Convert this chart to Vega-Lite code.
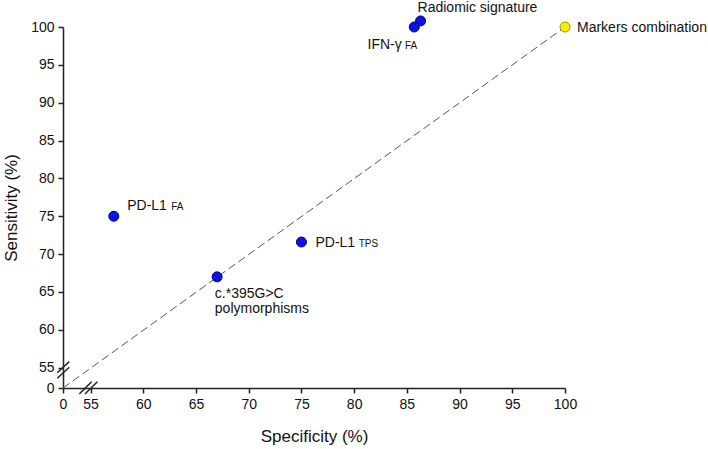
{
  "$schema": "https://vega.github.io/schema/vega-lite/v6.json",
  "width": 502,
  "height": 361,
  "autosize": {"type": "none"},
  "padding": {"left": 63, "top": 27, "right": 143, "bottom": 61},
  "background": "white",
  "config": {
    "view": {"stroke": null},
    "font": "Liberation Sans",
    "axis": {
      "grid": false,
      "domainColor": "#222",
      "domainWidth": 1.5,
      "tickColor": "#222",
      "tickWidth": 1.5,
      "tickSize": 5,
      "labelFont": "Liberation Sans",
      "labelFontSize": 14,
      "labelColor": "#111",
      "labelPadding": 4,
      "labelOverlap": false,
      "labelFlush": false,
      "titleFont": "Liberation Sans",
      "titleFontSize": 17,
      "titleFontWeight": "normal",
      "titleColor": "#111"
    }
  },
  "datasets": {
    "pts": [
      {"name": "Radiomic signature", "spec": 86.3, "sens": 100.8, "kind": "single"},
      {"name": "IFN-γ FA", "spec": 85.7, "sens": 100, "kind": "single"},
      {"name": "PD-L1 FA", "spec": 57.2, "sens": 75, "kind": "single"},
      {"name": "PD-L1 TPS", "spec": 75, "sens": 71.6, "kind": "single"},
      {"name": "c.*395G>C polymorphisms", "spec": 67, "sens": 67, "kind": "single"},
      {"name": "Markers combination", "spec": 100, "sens": 100, "kind": "combination"}
    ],
    "labels": [
      {"id": "rad", "main": "Radiomic signature", "sub": "", "spec": 86.3, "sens": 100.8},
      {"id": "ifn", "main": "IFN-γ", "sub": "FA", "spec": 85.7, "sens": 100},
      {"id": "pdfa", "main": "PD-L1", "sub": "FA", "spec": 57.2, "sens": 75},
      {"id": "pdtps", "main": "PD-L1", "sub": "TPS", "spec": 75, "sens": 71.6},
      {"id": "poly", "main": "c.*395G>C\npolymorphisms", "sub": "", "spec": 67, "sens": 67},
      {"id": "comb", "main": "Markers combination", "sub": "", "spec": 100, "sens": 100}
    ],
    "diag": [
      {"spec": 0, "sens": 0},
      {"spec": 100, "sens": 100}
    ],
    "breaks": [
      {"x": -11.4, "y": 41.5, "x2": 12.5, "y2": 55.8},
      {"x": -11.4, "y": 26.3, "x2": 12.5, "y2": 55.05},
      {"x": 32.5, "y": -16.3, "x2": 55.1, "y2": 17.1},
      {"x": 43.8, "y": -16.3, "x2": 55.64, "y2": 17.1}
    ]
  },
  "layer": [
    {
      "data": {"name": "diag"},
      "mark": {"type": "line", "color": "#555", "strokeWidth": 1, "strokeDash": [8, 4]},
      "encoding": {
        "x": {
          "field": "spec", "type": "quantitative",
          "scale": {"domain": [0, 55, 100], "range": [0, 27.6, 502], "nice": false, "zero": false},
          "axis": {"values": [0, 55, 60, 65, 70, 75, 80, 85, 90, 95, 100], "tickCount": 20, "title": "Specificity (%)", "titlePadding": 17}
        },
        "y": {
          "field": "sens", "type": "quantitative",
          "scale": {"domain": [0, 55, 100], "range": [361, 340.7, 0], "nice": false, "zero": false},
          "axis": {"values": [0, 55, 60, 65, 70, 75, 80, 85, 90, 95, 100], "tickCount": 20, "title": "Sensitivity (%)", "titlePadding": 10}
        }
      }
    },
    {
      "data": {"name": "breaks"},
      "mark": {"type": "rule", "color": "#222", "strokeWidth": 1.5},
      "encoding": {
        "x": {"field": "x", "type": "quantitative"},
        "y": {"field": "y", "type": "quantitative"},
        "x2": {"field": "x2"},
        "y2": {"field": "y2"}
      }
    },
    {
      "data": {"name": "pts"},
      "mark": {"type": "point", "filled": true, "size": 100, "strokeWidth": 1, "opacity": 1},
      "encoding": {
        "x": {"field": "spec", "type": "quantitative"},
        "y": {"field": "sens", "type": "quantitative"},
        "fill": {"field": "kind", "type": "nominal", "scale": {"domain": ["single", "combination"], "range": ["#0a14e6", "#f2f200"]}, "legend": null},
        "stroke": {"field": "kind", "type": "nominal", "scale": {"domain": ["single", "combination"], "range": ["#00007a", "#9a9a00"]}, "legend": null}
      }
    },
    {
      "data": {"name": "labels"},
      "transform": [{"filter": "datum.id === 'rad'"}],
      "mark": {"type": "text", "align": "left", "baseline": "alphabetic", "fontSize": 14, "color": "#111", "dx": -3, "dy": -8.5},
      "encoding": {"x": {"field": "spec", "type": "quantitative"}, "y": {"field": "sens", "type": "quantitative"}, "text": {"field": "main"}}
    },
    {
      "data": {"name": "labels"},
      "transform": [{"filter": "datum.id === 'ifn'"}],
      "mark": {"type": "text", "align": "right", "baseline": "alphabetic", "fontSize": 14, "color": "#111", "dx": -12.5, "dy": 22},
      "encoding": {"x": {"field": "spec", "type": "quantitative"}, "y": {"field": "sens", "type": "quantitative"}, "text": {"field": "main"}}
    },
    {
      "data": {"name": "labels"},
      "transform": [{"filter": "datum.id === 'ifn'"}],
      "mark": {"type": "text", "align": "right", "baseline": "alphabetic", "fontSize": 10, "color": "#111", "dx": 3, "dy": 22},
      "encoding": {"x": {"field": "spec", "type": "quantitative"}, "y": {"field": "sens", "type": "quantitative"}, "text": {"field": "sub"}}
    },
    {
      "data": {"name": "labels"},
      "transform": [{"filter": "datum.id === 'comb'"}],
      "mark": {"type": "text", "align": "left", "baseline": "alphabetic", "fontSize": 14, "color": "#111", "dx": 12, "dy": 5},
      "encoding": {"x": {"field": "spec", "type": "quantitative"}, "y": {"field": "sens", "type": "quantitative"}, "text": {"field": "main"}}
    },
    {
      "data": {"name": "labels"},
      "transform": [{"filter": "datum.id === 'pdfa'"}],
      "mark": {"type": "text", "align": "left", "baseline": "alphabetic", "fontSize": 14, "color": "#111", "dx": 13.4, "dy": -6.4},
      "encoding": {"x": {"field": "spec", "type": "quantitative"}, "y": {"field": "sens", "type": "quantitative"}, "text": {"field": "main"}}
    },
    {
      "data": {"name": "labels"},
      "transform": [{"filter": "datum.id === 'pdfa'"}],
      "mark": {"type": "text", "align": "left", "baseline": "alphabetic", "fontSize": 10, "color": "#111", "dx": 57.4, "dy": -6.4},
      "encoding": {"x": {"field": "spec", "type": "quantitative"}, "y": {"field": "sens", "type": "quantitative"}, "text": {"field": "sub"}}
    },
    {
      "data": {"name": "labels"},
      "transform": [{"filter": "datum.id === 'pdtps'"}],
      "mark": {"type": "text", "align": "left", "baseline": "alphabetic", "fontSize": 14, "color": "#111", "dx": 14, "dy": 5},
      "encoding": {"x": {"field": "spec", "type": "quantitative"}, "y": {"field": "sens", "type": "quantitative"}, "text": {"field": "main"}}
    },
    {
      "data": {"name": "labels"},
      "transform": [{"filter": "datum.id === 'pdtps'"}],
      "mark": {"type": "text", "align": "left", "baseline": "alphabetic", "fontSize": 10, "color": "#111", "dx": 57.3, "dy": 5},
      "encoding": {"x": {"field": "spec", "type": "quantitative"}, "y": {"field": "sens", "type": "quantitative"}, "text": {"field": "sub"}}
    },
    {
      "data": {"name": "labels"},
      "transform": [{"filter": "datum.id === 'poly'"}],
      "mark": {"type": "text", "align": "left", "baseline": "alphabetic", "fontSize": 14, "color": "#111", "dx": -2.3, "dy": 21, "lineBreak": "\n", "lineHeight": 15.5},
      "encoding": {"x": {"field": "spec", "type": "quantitative"}, "y": {"field": "sens", "type": "quantitative"}, "text": {"field": "main"}}
    }
  ]
}
